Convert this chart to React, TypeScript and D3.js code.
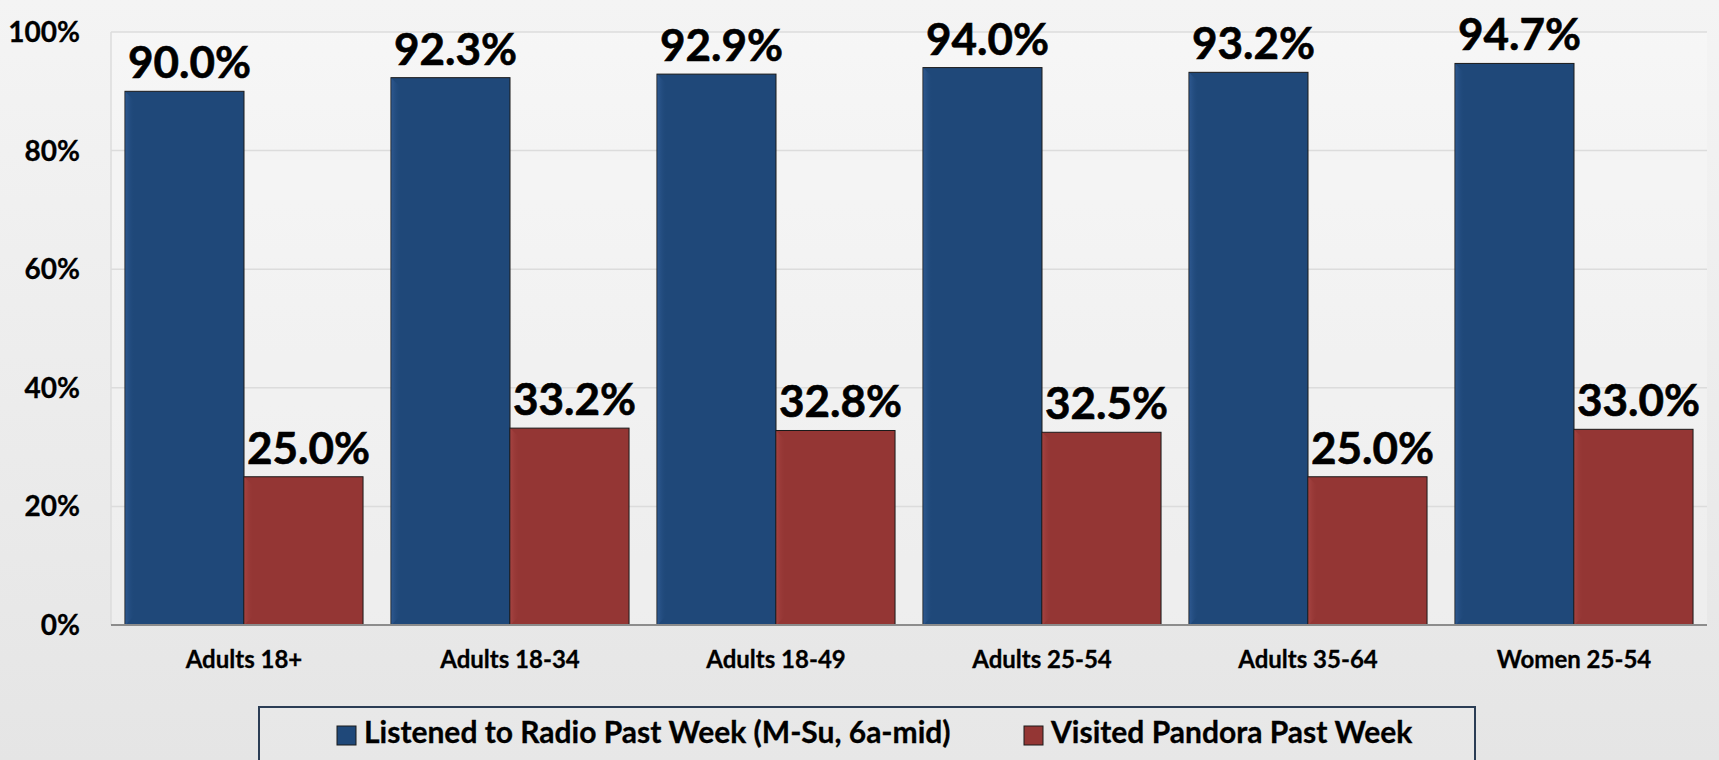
import React from "react";
import * as d3 from "d3";

const categories = ["Adults 18+", "Adults 18-34", "Adults 18-49", "Adults 25-54", "Adults 35-64", "Women 25-54"];
const seriesNames = ["Listened to Radio Past Week (M-Su, 6a-mid)", "Visited Pandora Past Week"];
const radioValues = [90.0, 92.3, 92.9, 94.0, 93.2, 94.7];
const pandoraValues = [25.0, 33.2, 32.8, 32.5, 25.0, 33.0];
const yTicks = [0, 20, 40, 60, 80, 100];

const W = 1719;
const H = 760;
const FONT = "Lato, 'Open Sans', sans-serif";

const seriesColors = ["#1f4879", "#943634"];
const seriesLight = ["#2f5a92", "#a64442"];

export default function App() {
  const plotLeft = 111;
  const plotRight = 1707;
  const plotTop = 32;
  const plotBottom = 625;

  const x = d3.scaleBand<string>().domain(categories).range([plotLeft, plotRight]).paddingInner(0.105).paddingOuter(0.0525);
  const xs = d3.scaleBand<string>().domain(["0", "1"]).range([0, x.bandwidth()]).padding(0);
  const y = d3.scaleLinear().domain([0, 100]).range([plotBottom, plotTop]);

  const series = [radioValues, pandoraValues];

  const bars: React.ReactNode[] = [];
  const labels: React.ReactNode[] = [];
  categories.forEach((c, ci) => {
    series.forEach((vals, si) => {
      const v = vals[ci];
      const bx = (x(c) as number) + (xs(String(si)) as number);
      const bw = xs.bandwidth();
      const by = y(v);
      const bh = y(0) - by;
      const bev = 9;
      bars.push(
        <g key={`b${ci}-${si}`}>
          <rect x={bx} y={by} width={bw} height={bh} fill={seriesColors[si]} stroke="#1a1a1a" strokeWidth={1} />
          <polygon
            points={`${bx + 0.5},${by + 0.5} ${bx + bev},${by + bev} ${bx + bev},${by + bh - bev} ${bx + 0.5},${by + bh}`}
            fill={`url(#bev${si})`}
          />
        </g>
      );
      labels.push(
        <text
          key={`l${ci}-${si}`}
          x={bx + bw / 2 + 5}
          y={by - 13}
          textAnchor="middle"
          fontFamily={FONT}
          fontWeight={700}
          fontSize={44}
          fill="#000"
          stroke="#000"
          strokeWidth={0.6}
        >
          {v.toFixed(1)}%
        </text>
      );
    });
  });

  return (
    <svg width={W} height={H} style={{ position: "absolute", left: 0, top: 0, display: "block" }}>
      <defs>
        <linearGradient id="bg" x1="0" y1="0" x2="0" y2="1">
          <stop offset="0" stopColor="#f4f4f4" />
          <stop offset="1" stopColor="#e5e5e5" />
        </linearGradient>
        <linearGradient id="bev0" x1="0" y1="0" x2="1" y2="0">
          <stop offset="0" stopColor={seriesLight[0]} stopOpacity={0.9} />
          <stop offset="1" stopColor={seriesColors[0]} stopOpacity={0.2} />
        </linearGradient>
        <linearGradient id="bev1" x1="0" y1="0" x2="1" y2="0">
          <stop offset="0" stopColor={seriesLight[1]} stopOpacity={0.9} />
          <stop offset="1" stopColor={seriesColors[1]} stopOpacity={0.2} />
        </linearGradient>
      </defs>
      <rect x={0} y={0} width={W} height={H} fill="url(#bg)" />
      <rect x={plotLeft} y={plotTop} width={plotRight - plotLeft} height={plotBottom - plotTop} fill="#ffffff" fillOpacity={0.25} />
      <line x1={plotLeft} x2={plotLeft} y1={plotTop} y2={plotBottom} stroke="#dcdcdc" strokeWidth={1.5} />
      {yTicks.map((t) => (
        <g key={`t${t}`}>
          {t > 0 && <line x1={plotLeft} x2={plotRight} y1={y(t)} y2={y(t)} stroke="#dcdcdc" strokeWidth={1.5} />}
          <text x={80} y={y(t)} dy="0.36em" textAnchor="end" fontFamily={FONT} fontWeight={700} fontSize={28} fill="#000" stroke="#000" strokeWidth={0.3}>
            {t}%
          </text>
        </g>
      ))}
      {bars}
      <line x1={plotLeft} x2={plotRight} y1={plotBottom} y2={plotBottom} stroke="#8c8c8c" strokeWidth={2} />
      {labels}
      {categories.map((c) => (
        <text key={c} x={(x(c) as number) + x.bandwidth() / 2} y={668} textAnchor="middle" fontFamily={FONT} fontWeight={700} fontSize={24} fill="#000" stroke="#000" strokeWidth={0.3}>
          {c}
        </text>
      ))}
      <rect x={259} y={707} width={1216} height={70} fill="#ebebeb" fillOpacity={0.4} stroke="#2b3d55" strokeWidth={2} />
      {seriesNames.map((s, i) => {
        const mx = i === 0 ? 337 : 1024;
        return (
          <g key={s}>
            <rect x={mx} y={726} width={19} height={19} fill={seriesColors[i]} stroke="#1a1a1a" strokeWidth={1} />
            <text x={mx + 27} y={743} fontFamily={FONT} fontWeight={700} fontSize={30} fill="#000" stroke="#000" strokeWidth={0.3}>
              {s}
            </text>
          </g>
        );
      })}
    </svg>
  );
}
